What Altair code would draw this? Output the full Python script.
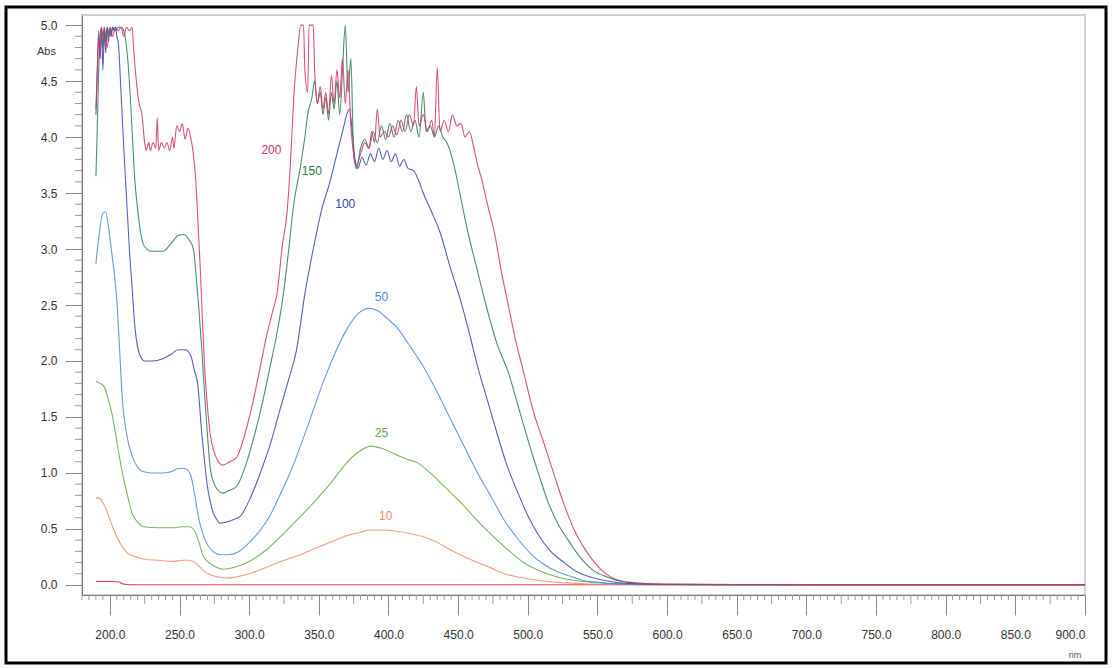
import altair as alt
import pandas as pd

# ---------------- data ----------------
wl_base = [190, 200, 206, 209, 214, 300, 400, 500, 600, 700, 800, 900]
abs_base = [0.03, 0.03, 0.028, 0.01, 0.002, 0.002, 0.002, 0.002, 0.002, 0.002, 0.002, 0.002]

wl_10 = [190, 193, 196, 199, 202, 205, 209, 213, 219, 225, 235, 245, 252, 257, 262, 267, 272, 278, 284,
         290, 300, 313, 325, 337, 348, 360, 370, 380, 387, 395, 406, 415, 425, 435, 445, 455, 464, 474,
         483, 493, 502, 514, 526, 540, 560, 580, 600, 650, 700, 800, 900]
abs_10 = [0.78, 0.77, 0.71, 0.62, 0.52, 0.43, 0.34, 0.28, 0.25, 0.23, 0.22, 0.21, 0.22, 0.22, 0.19, 0.13,
          0.09, 0.07, 0.06, 0.07, 0.10, 0.16, 0.22, 0.27, 0.33, 0.39, 0.44, 0.47, 0.49, 0.49, 0.48, 0.46,
          0.43, 0.38, 0.31, 0.25, 0.20, 0.15, 0.10, 0.07, 0.05, 0.03, 0.02, 0.01, 0.005, 0.003, 0.002,
          0.002, 0.002, 0.002, 0.002]

wl_25 = [190, 193, 196, 199, 202, 205, 209, 213, 216, 220, 224, 235, 245, 252, 257, 261, 264, 267, 272,
         276, 281, 290, 300, 312, 324, 336, 348, 358, 366, 373, 380, 387, 395, 406, 414, 421, 430, 440,
         450, 459, 468, 478, 488, 497, 506, 516, 528, 540, 555, 570, 590, 620, 700, 800, 900]
abs_25 = [1.82, 1.80, 1.77, 1.65, 1.50, 1.28, 1.00, 0.78, 0.64, 0.56, 0.52, 0.51, 0.51, 0.52, 0.52, 0.48,
          0.38, 0.26, 0.19, 0.16, 0.14, 0.16, 0.21, 0.31, 0.45, 0.60, 0.76, 0.90, 1.03, 1.13, 1.20, 1.24,
          1.22, 1.16, 1.12, 1.09, 1.00, 0.88, 0.76, 0.64, 0.52, 0.40, 0.29, 0.20, 0.14, 0.09, 0.05, 0.03,
          0.015, 0.008, 0.004, 0.003, 0.002, 0.002, 0.002]

wl_50 = [190, 192, 195, 197, 199, 201, 203, 205, 207, 209, 212, 216, 220, 224, 230, 238, 244, 249, 254,
         258, 261, 264, 267, 270, 274, 279, 285, 294, 301, 308, 315, 322, 330, 338, 346, 354, 362, 370,
         378, 386, 392, 399, 406, 415, 425, 435, 445, 455, 464, 474, 483, 493, 502, 512, 521, 530, 540,
         550, 560, 575, 600, 650, 700, 800, 900]
abs_50 = [2.87, 3.10, 3.32, 3.33, 3.20, 3.00, 2.80, 2.54, 2.10, 1.65, 1.35, 1.15, 1.05, 1.01, 1.00, 1.00,
          1.01, 1.04, 1.04, 0.98, 0.80, 0.58, 0.45, 0.36, 0.30, 0.27, 0.27, 0.31, 0.39, 0.49, 0.62, 0.80,
          1.02, 1.28, 1.56, 1.84, 2.08, 2.28, 2.42, 2.47, 2.45, 2.38, 2.30, 2.14, 1.95, 1.72, 1.47, 1.22,
          1.00, 0.78, 0.58, 0.41, 0.28, 0.18, 0.12, 0.08, 0.04, 0.025, 0.012, 0.006, 0.003, 0.002, 0.002,
          0.002, 0.002]

wl_100 = [190, 191, 192, 193, 194, 195, 196, 197, 198, 199, 200, 201, 202, 203, 204, 205, 206, 208, 210,
          212, 214, 216, 218, 220, 222, 225, 230, 238, 244, 249, 254, 258, 261, 263, 266, 268, 270, 272,
          274, 277, 279, 283, 288, 294, 301, 308, 315, 322, 328, 334, 340, 346, 352, 358, 362, 365, 368,
          370, 372, 374, 376, 378, 381, 384, 387, 390, 393, 396, 399, 402, 405, 408, 411, 414, 418, 422,
          425, 431, 437, 444, 452, 458, 464, 471, 478, 485, 493, 500, 507, 515, 526, 535, 545, 555, 565,
          580, 600, 650, 700, 800, 900]
abs_100 = [4.2, 4.6, 4.95, 4.7, 4.98, 4.6, 4.95, 4.75, 4.98, 4.85, 4.98, 4.9, 4.98, 4.95, 4.98, 4.9, 4.85,
           4.4, 3.9, 3.45, 3.0, 2.65, 2.3, 2.12, 2.04, 2.0, 2.0, 2.02, 2.06, 2.1, 2.1, 2.05, 1.9, 1.8,
           1.35, 1.1, 0.88, 0.75, 0.65, 0.58, 0.55, 0.56, 0.58, 0.62, 0.78, 1.0, 1.25, 1.56, 1.82, 2.1,
           2.6, 3.0, 3.35, 3.6, 3.8, 3.95, 4.1, 4.2, 4.25, 4.05, 3.8, 3.72, 3.82, 3.75, 3.85, 3.78, 3.9,
           3.8, 3.88, 3.78, 3.85, 3.74, 3.8, 3.72, 3.7, 3.6, 3.5, 3.33, 3.15, 2.85, 2.53, 2.25, 1.95,
           1.65, 1.35, 1.07, 0.82, 0.62, 0.46, 0.32, 0.2, 0.12, 0.07, 0.04, 0.02, 0.01, 0.005, 0.003,
           0.002, 0.002, 0.002]

wl_150 = [190, 191, 192, 193, 194, 195, 196, 197, 198, 200, 202, 204, 206, 208, 210, 212, 214, 216, 218,
          220, 222, 225, 230, 238, 244, 249, 253, 257, 260, 262, 264, 266, 268, 270, 272, 275, 278, 281,
          285, 291, 297, 303, 309, 315, 320, 324, 328, 332, 337, 340, 342, 345, 347, 349, 351, 353, 355,
          357, 359, 361, 363, 365, 367, 369, 371, 373, 375, 377, 380, 383, 386, 389, 392, 395, 398, 401,
          404, 407, 410, 413, 416, 419, 422, 425, 427, 430, 433, 436, 439, 442, 447, 452, 457, 463, 470,
          478, 486, 493, 500, 507, 514, 521, 529, 538, 547, 557, 567, 580, 600, 650, 700, 800, 900]
abs_150 = [3.65, 4.1, 4.6, 4.9, 4.98, 4.8, 4.98, 4.85, 4.98, 4.9, 4.98, 4.95, 4.98, 4.98, 4.95, 4.8, 4.5,
           4.05, 3.6, 3.35, 3.15, 3.02, 2.98, 2.98, 3.05, 3.12, 3.13, 3.08, 3.0, 2.75, 2.45, 2.1, 1.7,
           1.35, 1.05, 0.9, 0.84, 0.82, 0.84, 0.88, 1.05, 1.3, 1.6, 1.95, 2.25, 2.55, 2.95, 3.4, 3.75,
           4.0, 4.2, 4.35, 4.5, 4.3, 4.4, 4.2, 4.35, 4.15, 4.4, 4.25, 4.5, 4.2, 4.6, 5.0, 4.4, 4.7, 3.85,
           3.72, 3.9, 3.98, 3.9, 4.05, 3.95, 4.1, 3.98, 4.12, 4.0, 4.15, 4.05, 4.2, 4.05, 4.15, 4.0, 4.4,
           4.05, 4.1, 4.0, 4.1, 4.0, 3.95, 3.75, 3.45, 3.15, 2.85, 2.5, 2.15, 1.9, 1.6, 1.3, 1.02, 0.76,
           0.56, 0.4, 0.24, 0.13, 0.07, 0.03, 0.015, 0.006, 0.003, 0.002, 0.002, 0.002]

wl_200 = [190, 191, 192, 193, 194, 195, 196, 198, 200, 202, 204, 206, 208, 210, 212, 214, 216, 217, 219,
          221, 223, 225, 226, 228, 229, 231, 233, 234, 235, 237, 239, 241, 243, 245, 246, 248, 250, 252,
          254, 256, 258, 260, 262, 263, 265, 266, 268, 270, 272, 275, 277, 281, 286, 291, 297, 303, 308,
          313, 317, 320, 324, 327, 330, 332, 335, 337, 339, 340, 342, 343, 346, 347, 349, 351, 353, 355,
          357, 359, 361, 363, 365, 367, 369, 371, 373, 375, 377, 380, 383, 386, 388, 390, 392, 394, 397,
          400, 403, 406, 409, 412, 415, 418, 420, 422, 425, 428, 431, 433, 435, 437, 440, 443, 446, 449,
          452, 455, 458, 461, 464, 467, 471, 476, 481, 486, 491, 497, 504, 512, 519, 526, 533, 540, 548,
          555, 563, 572, 585, 600, 650, 700, 800, 900]
abs_200 = [4.25, 4.6, 4.9, 4.7, 4.98, 4.9, 4.98, 4.8, 4.98, 4.9, 4.98, 4.95, 4.98, 4.9, 4.98, 4.95, 4.98,
           4.8, 4.5, 4.3, 4.2, 3.95, 3.88, 3.95, 3.88, 3.95, 3.9, 4.17, 3.88, 3.95, 3.9, 3.95, 3.88, 4.0,
           3.9, 4.1, 4.05, 4.12, 3.98, 4.08, 4.0, 3.84, 3.55, 3.3, 2.8, 2.5, 1.95, 1.6, 1.35, 1.18, 1.12,
           1.07, 1.1, 1.14, 1.35, 1.65, 1.95, 2.25, 2.45, 2.6, 3.05, 3.3, 3.85, 4.35, 4.8, 5.0, 5.0, 4.6,
           4.4, 5.0, 5.0, 4.6, 4.3, 4.45, 4.25, 4.4, 4.2, 4.55, 4.3, 4.6, 4.35, 4.7, 4.3, 4.6, 4.1, 3.85,
           3.75, 3.85, 3.95, 3.9, 4.05, 3.95, 4.25, 4.0, 4.05, 4.0, 4.1, 4.02, 4.15, 4.05, 4.2, 4.1, 4.45,
           4.1, 4.2, 4.05, 4.15, 4.0, 4.62, 4.05, 4.15, 4.05, 4.2, 4.1, 4.12, 4.0, 4.05, 3.92, 3.75, 3.62,
           3.4, 3.15, 2.8, 2.5, 2.2, 1.9, 1.55, 1.25, 0.98, 0.72, 0.5, 0.34, 0.2, 0.11, 0.05, 0.025,
           0.012, 0.006, 0.004, 0.003, 0.003, 0.003]

series_names = ["base", "10", "25", "50", "100", "150", "200"]
series_colors = ["#d4202c", "#f28a66", "#62a84a", "#4f86e0", "#3444b0", "#2d7a4e", "#d4326e"]

label_text = ["200", "150", "100", "50", "25", "10"]
label_nm = [316, 345, 369, 395, 395, 398]
label_abs = [3.88, 3.70, 3.40, 2.57, 1.36, 0.62]

x_major = [200, 250, 300, 350, 400, 450, 500, 550, 600, 650, 700, 750, 800, 850, 900]
y_major = [0.0, 0.5, 1.0, 1.5, 2.0, 2.5, 3.0, 3.5, 4.0, 4.5, 5.0]

# ---------------- build tables ----------------
wl_all = [wl_base, wl_10, wl_25, wl_50, wl_100, wl_150, wl_200]
abs_all = [abs_base, abs_10, abs_25, abs_50, abs_100, abs_150, abs_200]
rows = []
for order, (name, w, a) in enumerate(zip(series_names, wl_all, abs_all)):
    for i, (xx, yy) in enumerate(zip(w, a)):
        rows.append({"series": name, "nm": xx, "abs": yy, "ord": order, "i": i})
df = pd.DataFrame(rows)

lab_df = pd.DataFrame({"text": label_text, "nm": label_nm, "abs": label_abs, "series": label_text})

x_minor = [v for v in range(180, 901, 5) if v % 50 != 0 and v % 25 != 0]
x_mid = [v for v in range(175, 901, 50) if v >= 180]
y_minor = [round(v / 10, 1) for v in range(0, 51) if v % 5 != 0]

xdom = [180, 900]
ydom = [-0.09, 5.09]
W, H = 1003, 580
FONT = "Liberation Sans"

xs = alt.Scale(domain=xdom, nice=False, zero=False)
ys = alt.Scale(domain=ydom, nice=False, zero=False)
col = alt.Scale(domain=series_names, range=series_colors)

lines = alt.Chart(df).mark_line(strokeWidth=1.1, opacity=0.85, interpolate="monotone").encode(
    x=alt.X("nm:Q", scale=xs, axis=alt.Axis(values=x_major, format=".1f", title=None, tickSize=20,
                                          labelPadding=14, labelFontSize=12, labelColor="#333",
                                          tickColor="#888", domainColor="#777", grid=False,
                                          labelFont=FONT)),
    y=alt.Y("abs:Q", scale=ys, axis=alt.Axis(values=y_major, format=".1f", title=None, tickSize=17,
                                           labelPadding=8, labelFontSize=12, labelColor="#333",
                                           tickColor="#888", domainColor="#777", grid=False,
                                           labelFont=FONT)),
    color=alt.Color("series:N", scale=col, legend=None),
    detail="series:N",
    order="i:Q",
)

minor_x = alt.Chart(pd.DataFrame({"nm": x_minor})).mark_rule(color="#999", strokeWidth=1).encode(
    x=alt.X("nm:Q", scale=xs), y=alt.value(H), y2=alt.value(H + 5))
mid_x = alt.Chart(pd.DataFrame({"nm": x_mid})).mark_rule(color="#999", strokeWidth=1).encode(
    x=alt.X("nm:Q", scale=xs), y=alt.value(H), y2=alt.value(H + 9))
minor_y = alt.Chart(pd.DataFrame({"abs": y_minor})).mark_rule(color="#999", strokeWidth=1).encode(
    y=alt.Y("abs:Q", scale=ys), x=alt.value(-7), x2=alt.value(0))

labels = alt.Chart(lab_df).mark_text(fontSize=12, font=FONT, align="center", baseline="middle").encode(
    x=alt.X("nm:Q", scale=xs), y=alt.Y("abs:Q", scale=ys),
    text="text:N", color=alt.Color("series:N", scale=col, legend=None))

abs_t = alt.Chart(pd.DataFrame({"t": ["Abs"]})).mark_text(fontSize=11, font=FONT, color="#333",
                                                         align="right").encode(
    x=alt.value(-26), y=alt.value(37), text="t:N")
nm_t = alt.Chart(pd.DataFrame({"t": ["nm"]})).mark_text(fontSize=9, font=FONT, color="#555",
                                                       align="center", baseline="middle").encode(
    x=alt.value(993), y=alt.value(640), text="t:N")

frame = alt.Chart(pd.DataFrame({"k": [0]})).mark_rect(fill=None, stroke="black", strokeWidth=3).encode(
    x=alt.value(-76), x2=alt.value(1024), y=alt.value(-8), y2=alt.value(648))

chart = alt.layer(minor_x, mid_x, minor_y, lines, labels, abs_t, nm_t, frame).properties(
    width=W, height=H,
    autosize=alt.AutoSizeParams(type="none"),
    padding={"left": 82, "top": 15, "right": 29, "bottom": 73},
    background="white",
).configure_view(stroke="#c4c4c4", strokeWidth=1.5)

chart.save("out.html", embed_options={"renderer": "svg", "actions": False})
